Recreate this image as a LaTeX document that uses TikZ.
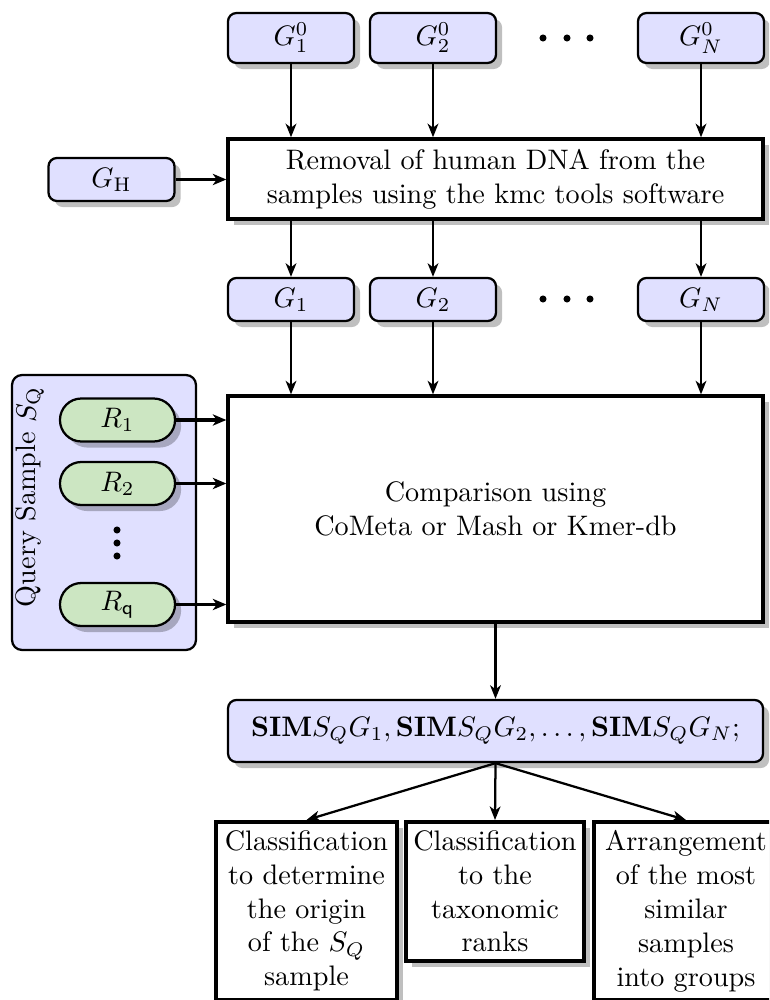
\documentclass[tikz,border=0pt]{standalone}
\usetikzlibrary{arrows.meta,shadows}
\definecolor{lav}{RGB}{224,224,255}
\definecolor{sage}{RGB}{204,230,194}
\tikzset{
  shad/.style={drop shadow={fill=black,opacity=0.25}},
  gbox/.style={draw, thick, rounded corners=3pt, fill=lav, shad, minimum width=44.7pt, minimum height=15.25pt, inner sep=0pt},
  gtop/.style={gbox, minimum height=17.7pt},
  bigbox/.style={draw, very thick, fill=white, shad, align=center, inner sep=0pt, minimum width=189.7pt},
  rbox/.style={draw, thick, rounded corners=7.6pt, fill=sage, shad, minimum width=40.8pt, minimum height=15.25pt, inner sep=0pt},
  qbox/.style={draw, thick, rounded corners=3.5pt, fill=lav, minimum width=65.2pt, minimum height=97.5pt, inner sep=0pt},
  simbox/.style={draw, thick, rounded corners=3pt, fill=lav, shad, minimum width=189.7pt, minimum height=22pt, inner sep=0pt},
  outbox/.style={draw, line width=1.4pt, fill=white, shad, align=center, anchor=north, inner xsep=2pt, inner ysep=3pt},
  arr/.style={-{Stealth[length=4.8pt,width=3.8pt,inset=1.4pt]}, thick},
  harr/.style={-{Stealth[length=4.8pt,width=4pt,inset=1.4pt]}, very thick},
}
\begin{document}
\begin{tikzpicture}[x=0.3546pt, y=-0.3546pt]
\clip (0,0) rectangle (769,1000);
% top row
\node[gtop] (g10) at (291,38) {$G_1^0$};
\node[gtop] (g20) at (433,38) {$G_2^0$};
\node[gtop] (gn0) at (701,38) {$G_N^0$};
\coordinate (dtop) at (567,38);
\foreach \d in {-24,0,23} \fill ([xshift=\d*0.3546pt]dtop) circle[radius=1.25pt];
% removal
\node[bigbox, minimum height=28.4pt] (rem) at (495.5,179) {Removal of human DNA from the\\samples using the kmc tools software};
\node[gbox] (gh) at (111.5,179.5) {$G_{\mathrm{H}}$};
% middle row
\node[gbox] (g1) at (291,299.5) {$G_1$};
\node[gbox] (g2) at (433,299.5) {$G_2$};
\node[gbox] (gn) at (701,299.5) {$G_N$};
\coordinate (dmid) at (567,299);
\foreach \d in {-24,0,23} \fill ([xshift=\d*0.3546pt]dmid) circle[radius=1.25pt];
% comparison
\node[bigbox, minimum height=80.1pt] (comp) at (495.5,509) {Comparison using\\CoMeta or Mash or Kmer-db};
% query sample
\node[qbox] (qs) at (104,512.5) {};
\node[rotate=90, inner sep=0pt] (qlabel) at (30,497) {Query Sample $S_{\mathrm{Q}}$};
\node[rbox] (r1) at (117.5,420) {$R_1$};
\node[rbox] (r2) at (117.5,483.5) {$R_2$};
\node[rbox] (rq) at (117.5,604.5) {$R_{\mathsf{q}}$};
\coordinate (dq) at (117,543);
\foreach \d in {-13,0,13} \fill ([yshift=-\d*0.3546pt]dq) circle[radius=1.25pt];
% SIM
\node[simbox] (sim) at (495.5,731) {$\mathbf{SIM}S_QG_1, \mathbf{SIM}S_QG_2, \ldots, \mathbf{SIM}S_QG_N;$};
% outputs
\node[outbox, minimum width=64.2pt] (o1) at (306.5,820) {Classification\\to determine\\the origin\\of the $S_Q$\\sample};
\node[outbox, minimum width=63.1pt] (o2) at (495,820) {Classification\\to the\\taxonomic\\ranks};
\node[outbox, minimum width=65.2pt] (o3) at (686,820) {Arrangement\\of the most\\similar\\samples\\into groups};
% connectors
\foreach \n in {g10,g20,gn0} \draw[arr] (\n) -- (\n |- rem.north);
\foreach \n in {g1,g2,gn} {
  \draw[arr] (rem.south -| \n) -- (\n);
  \draw[arr] (\n) -- (\n |- comp.north);
}
\draw[harr] (gh) -- (rem.west |- gh);
\foreach \n in {r1,r2,rq} \draw[harr] (\n) -- (comp.west |- \n);
\draw[arr] (comp.south) -- (sim.north);
\foreach \n in {o1,o2,o3} \draw[arr] (sim.south) -- (\n.north);
\end{tikzpicture}
\end{document}
